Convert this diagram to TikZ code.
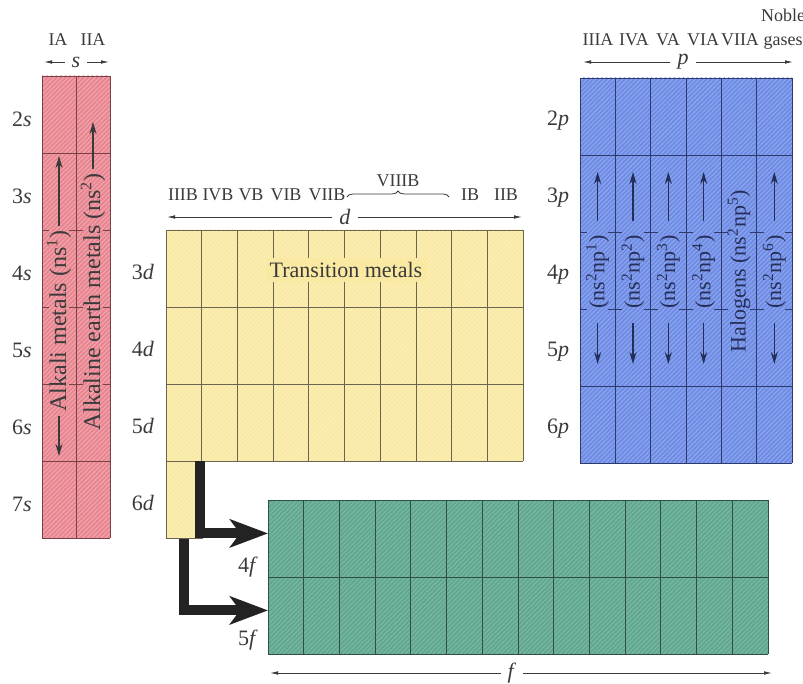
\documentclass[tikz,border=0pt]{standalone}
\usepackage{fontspec}
\setmainfont{Liberation Serif}
\usepackage{xcolor}
\usetikzlibrary{arrows.meta,positioning,calc,decorations.pathreplacing,patterns.meta}
\definecolor{rosa}{HTML}{E98590}
\definecolor{amarillo}{HTML}{F9E9A2}
\definecolor{azul}{HTML}{6E8CE6}
\definecolor{verde}{HTML}{60A890}
\definecolor{bordes}{HTML}{7A4048}
\definecolor{borded}{HTML}{6B6550}
\definecolor{bordep}{HTML}{2E3A6E}
\definecolor{bordef}{HTML}{2F4F46}
\definecolor{gris}{HTML}{3A3A3A}
\definecolor{negro}{HTML}{232323}

\begin{document}
\begin{tikzpicture}[
  x=0.5pt, y=-0.5pt,
  etiqueta/.style={font=\fontsize{11}{13}\selectfont, text=gris},
  grupo/.style={font=\fontsize{9}{11}\selectfont, text=gris, anchor=base},
  vertical/.style={etiqueta, rotate=90, inner sep=2pt},
  cota/.style={-{Latex[length=4pt,width=1.8pt]}, draw=gris, line width=0.4pt},
  puntero/.style={-{Stealth[length=6pt,width=3.5pt]}, draw=gris, line width=0.6pt},
  flechagruesa/.style={-{Stealth[length=19pt,width=14pt,inset=5pt]}, draw=negro, line width=5pt},
  trama/.style={postaction={pattern={Lines[angle=45,distance=1.6pt,line width=0.45pt]}, pattern color=#1}},
  fila/.style={minimum width=250pt, minimum height=38.5pt, inner sep=0pt, anchor=north west}
]
\useasboundingbox (0,0) rectangle (803,684);

% bloque s
\fill[rosa, trama=rosa!70!white] (42,76) rectangle (110,538);
\foreach \x in {42,76,110} \draw[bordes] (\x,76) -- (\x,538);
\foreach \y in {76,153,461,538} \draw[bordes] (42,\y) -- (110,\y);
\begin{scope}
  \clip (42,76) rectangle (110,538);
  \foreach \y in {230,307,384}
    \foreach \x in {42,76,110} \draw[bordes] (\x-7,\y) -- (\x+7,\y);
\end{scope}
\foreach \n [count=\i from 0] in {2,...,7}
  \node[etiqueta] (s\n) at (22,119+77*\i) {\n\textit{s}};
\node[vertical, font=\fontsize{12}{14}\selectfont] (alcalinos) at (59,321) {Alkali metals (ns\textsuperscript{1})};
\node[vertical, font=\fontsize{12}{14}\selectfont] (terreos) at (93,302) {Alkaline earth metals (ns\textsuperscript{2})};
\coordinate (alcarriba) at (59,156);
\coordinate (alcabajo) at (59,456);
\coordinate (terarriba) at (93,122);
\draw[puntero] (alcalinos.east) -- (alcarriba);
\draw[puntero] (alcalinos.west) -- (alcabajo);
\draw[puntero] (terreos.east) -- (terarriba);

% cabecera s
\node[grupo] (ia) at (58,46) {IA};
\node[grupo] (iia) at (93,46) {IIA};
\node[etiqueta] (slab) at (76,62) {\textit{s}};
\coordinate (sizq) at (44,62);
\coordinate (sder) at (109,62);
\draw[cota] (slab.west) -- (sizq);
\draw[cota] (slab.east) -- (sder);

% bloque d
\fill[amarillo, trama=amarillo!70!white] (166,230) rectangle (523,461);
\foreach \i in {0,...,10} \draw[borded] (166+35.7*\i,230) -- (166+35.7*\i,461);
\foreach \y in {230,307,384,461} \draw[borded] (166,\y) -- (523,\y);
\node[etiqueta, fill=amarillo, inner sep=2pt] (transicion) at (346,270) {Transition metals};
\fill[amarillo, trama=amarillo!70!white] (166,461) rectangle (201.7,538);
\node[draw=borded, minimum width=17.85pt, minimum height=38.5pt,
      inner sep=0pt, anchor=north west] (celda6d) at (166,461) {};
\foreach \n [count=\i from 0] in {3,...,6}
  \node[etiqueta] (d\n) at (143,272+77*\i) {\n\textit{d}};

% cabecera d
\foreach \g/\x in {IIIB/183, IVB/218, VB/251, VIB/286, VIIB/327, IB/470, IIB/506}
  \node[grupo] (g\g) at (\x,201) {\g};
\node[grupo] (gVIIIB) at (398,187) {VIIIB};
\draw[gris, line width=0.4pt, decorate, decoration={brace, amplitude=3pt}] (347,197) -- (449,197);
\node[etiqueta] (dlab) at (345,217) {\textit{d}};
\coordinate (dizq) at (167,217);
\coordinate (dder) at (522,217);
\draw[cota] (dlab.west) -- (dizq);
\draw[cota] (dlab.east) -- (dder);

% bloque p
\fill[azul, trama=azul!75!white] (580,78) rectangle (792,463);
\foreach \i in {0,...,6} \draw[bordep] (580+35.33*\i,78) -- (580+35.33*\i,463);
\foreach \y in {78,155,386,463} \draw[bordep] (580,\y) -- (792,\y);
\begin{scope}
  \clip (580,78) rectangle (792,463);
  \foreach \y in {232,309}
    \foreach \i in {0,...,6} \draw[bordep] (580+35.33*\i-7,\y) -- (580+35.33*\i+7,\y);
\end{scope}
\foreach \n [count=\i from 0] in {2,...,6}
  \node[etiqueta] (p\n) at (558,121+77*\i) {\n\textit{p}};
\foreach \i in {1,2,3,4,6} {
  \node[vertical, text=bordep!80!black] (np\i) at (580+35.33*\i-17.67,272) {(ns\textsuperscript{2}np\textsuperscript{\i})};
  \coordinate (nparriba\i) at (580+35.33*\i-17.67,172);
  \coordinate (npabajo\i) at (580+35.33*\i-17.67,364);
  \draw[puntero, draw=bordep!80!black, shorten <=5pt] (np\i.east) -- (nparriba\i);
  \draw[puntero, draw=bordep!80!black, shorten <=5pt] (np\i.west) -- (npabajo\i);
}
\node[vertical, text=bordep!80!black] (np5) at (739,271) {Halogens (ns\textsuperscript{2}np\textsuperscript{5})};

% cabecera p
\foreach \g/\x in {IIIA/598, IVA/634, VA/668, VIA/703, VIIA/740, gases/783}
  \node[grupo] (g\g) at (\x,46) {\g};
\node[grupo] (noble) at (783,22) {Noble};
\node[etiqueta] (plab) at (683,62) {\textit{p}};
\coordinate (pizq) at (583,62);
\coordinate (pder) at (793,62);
\draw[cota] (plab.west) -- (pizq);
\draw[cota] (plab.east) -- (pder);

% bloque f
\fill[verde, trama=verde!80!white] (268,500) rectangle (768,654);
\foreach \i in {0,...,14} \draw[bordef] (268+35.714*\i,500) -- (268+35.714*\i,654);
\foreach \y in {500,577,654} \draw[bordef] (268,\y) -- (768,\y);
\node[fila] (f4) at (268,500) {};
\node[fila] (f5) at (268,577) {};
\node[etiqueta] (f4lab) at (248,567) {4\textit{f}};
\node[etiqueta] (f5lab) at (248,640) {5\textit{f}};
\node[etiqueta] (flab) at (512,673) {\textit{f}};
\coordinate (fizq) at (270,673);
\coordinate (fder) at (772,673);
\draw[cota] (flab.west) -- (fizq);
\draw[cota] (flab.east) -- (fder);

% de 6d a las tierras raras
\draw[flechagruesa] ([xshift=-1.5pt]celda6d.north east) |- ([yshift=2.75pt]f4.west);
\draw[flechagruesa] (celda6d.south) |- ([yshift=2.75pt]f5.west);
\end{tikzpicture}
\end{document}
